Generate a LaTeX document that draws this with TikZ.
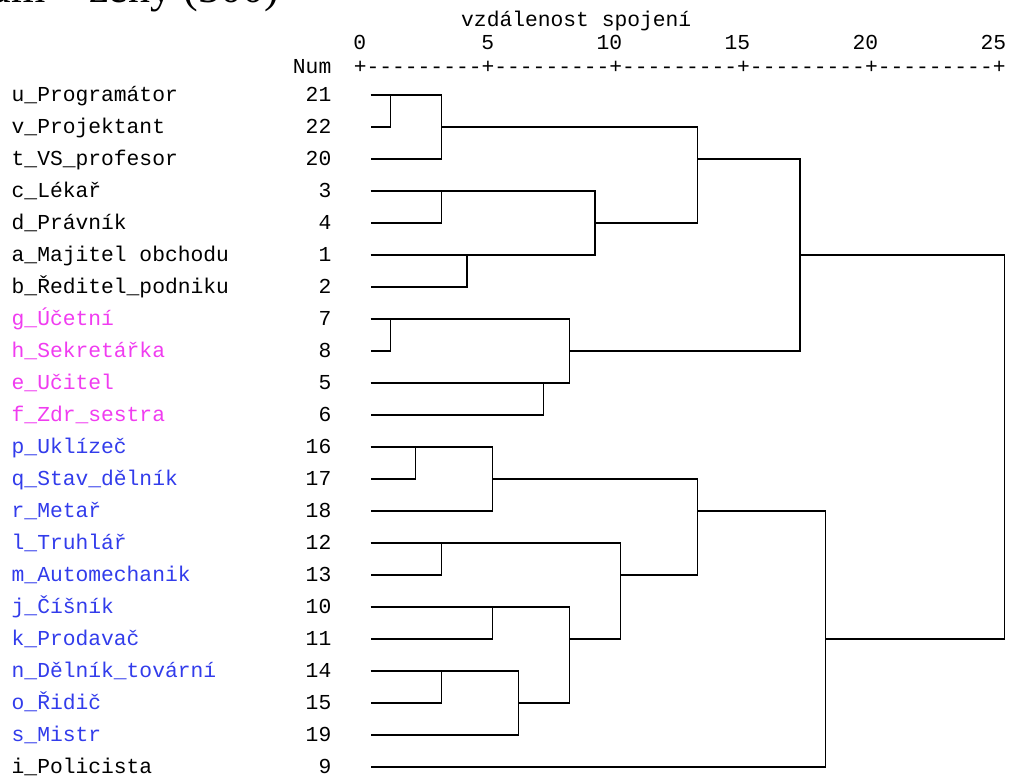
\documentclass[tikz,border=0pt]{standalone}
\usepackage{fontspec}
\setmainfont{Liberation Serif}
\setmonofont{Liberation Mono}
\usepackage{tikz}

\definecolor{profmag}{RGB}{240,60,240}
\definecolor{profblue}{RGB}{50,60,235}

\begin{document}
\begin{tikzpicture}[x=1pt,y=-1pt,
    txt/.style={inner sep=0pt,font=\ttfamily\fontsize{21.3}{22}\selectfont},
    lbl/.style={txt,anchor=base west},
    num/.style={txt,anchor=base east},
    link/.style={line width=1.3pt,line join=miter}]
\useasboundingbox (0,0) rectangle (1009,778);

% title, cut by the top edge
\node[anchor=base east,inner sep=0pt,font=\fontsize{44}{44}\selectfont] (title) at (279,2.5) {Dendrogram – ženy (300)};

% scale
\node[lbl] (axtitle) at (461,26.5) {vzdálenost spojení};
\foreach \v [count=\i from 0] in {0,5,10,15,20,25}
    \node[num] (tick\i) at (366.4+\i*128,50) {\v};
\node[num] (numhead) at (331.5,74) {Num};
\node[lbl] (axis) at (353.6,74) {+---------+---------+---------+---------+---------+};

% leaves
\foreach \lab/\n/\col [count=\k from 0] in {
    u\_Programátor/21/black, v\_Projektant/22/black, t\_VS\_profesor/20/black,
    c\_Lékař/3/black, d\_Právník/4/black, a\_Majitel obchodu/1/black,
    b\_Ředitel\_podniku/2/black, g\_Účetní/7/profmag, h\_Sekretářka/8/profmag,
    e\_Učitel/5/profmag, f\_Zdr\_sestra/6/profmag, p\_Uklízeč/16/profblue,
    q\_Stav\_dělník/17/profblue, r\_Metař/18/profblue, l\_Truhlář/12/profblue,
    m\_Automechanik/13/profblue, j\_Číšník/10/profblue, k\_Prodavač/11/profblue,
    n\_Dělník\_tovární/14/profblue, o\_Řidič/15/profblue, s\_Mistr/19/profblue,
    i\_Policista/9/black}
{
    \node[lbl,text=\col] (lab\k) at (11.5,\k*32+101.7) {\lab};
    \node[num] (num\k) at (331.5,\k*32+101.7) {\n};
    \coordinate (r\k) at (370.7,\k*32+95);
}

% merge points
\coordinate (mA) at (390.3,95);
\coordinate (mB) at (441.7,127);
\coordinate (mC) at (441.7,191);
\coordinate (mD) at (467,255);
\coordinate (mE) at (595,223);
\coordinate (mF) at (697.7,159);
\coordinate (mG) at (390.3,319);
\coordinate (mH) at (543.7,383);
\coordinate (mI) at (569.3,351);
\coordinate (mJ) at (800,255);
\coordinate (mK) at (415.7,447);
\coordinate (mL) at (492.7,479);
\coordinate (mM) at (441.3,543);
\coordinate (mN) at (492.7,607);
\coordinate (mO) at (441.3,671);
\coordinate (mP) at (518.3,703);
\coordinate (mQ) at (569.3,639);
\coordinate (mR) at (620.7,575);
\coordinate (mS) at (697.7,511);
\coordinate (mT) at (825.3,639);
\coordinate (mU) at (1004.3,447);

\draw[link] (r0) -| (mA) |- (r1);
\draw[link] (mA) -| (mB) |- (r2);
\draw[link] (r3) -| (mC) |- (r4);
\draw[link] (r5) -| (mD) |- (r6);
\draw[link] (mC) -| (mE) |- (mD);
\draw[link] (mB) -| (mF) |- (mE);
\draw[link] (r7) -| (mG) |- (r8);
\draw[link] (r9) -| (mH) |- (r10);
\draw[link] (mG) -| (mI) |- (mH);
\draw[link] (mF) -| (mJ) |- (mI);
\draw[link] (r11) -| (mK) |- (r12);
\draw[link] (mK) -| (mL) |- (r13);
\draw[link] (r14) -| (mM) |- (r15);
\draw[link] (r16) -| (mN) |- (r17);
\draw[link] (r18) -| (mO) |- (r19);
\draw[link] (mO) -| (mP) |- (r20);
\draw[link] (mN) -| (mQ) |- (mP);
\draw[link] (mM) -| (mR) |- (mQ);
\draw[link] (mL) -| (mS) |- (mR);
\draw[link] (mS) -| (mT) |- (r21);
\draw[link] (mJ) -| (mU) |- (mT);
\end{tikzpicture}
\end{document}
